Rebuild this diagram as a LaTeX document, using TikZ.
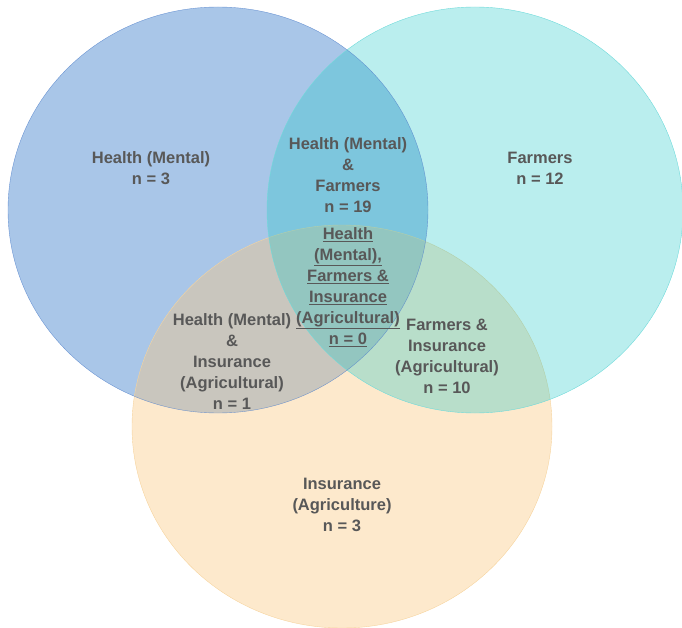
\documentclass[tikz,border=0pt]{standalone}
\usepackage{fontspec}
\setmainfont{Liberation Sans}
\usepackage{tikz}
\definecolor{mentalblue}{RGB}{169,198,232}
\definecolor{mentaledge}{RGB}{86,132,204}
\definecolor{farmcyan}{RGB}{25,198,198}
\definecolor{farmedge}{RGB}{110,218,218}
\definecolor{insorange}{RGB}{250,200,128}
\definecolor{insedge}{RGB}{246,212,158}
\definecolor{labelgray}{RGB}{88,88,88}

\begin{document}
\begin{tikzpicture}[x=1pt,y=-1pt,
    setlabel/.style={labelgray,align=center,font=\fontsize{16.5}{21}\selectfont\bfseries}]
  \useasboundingbox (0,0) rectangle (682,628);
  % the three sets, blue first, then orange, cyan on top
  \fill[mentalblue] (218,210) ellipse [x radius=210pt, y radius=203pt];
  \fill[insorange,fill opacity=0.4] (342,426.5) ellipse [x radius=210pt, y radius=201.5pt];
  \draw[insedge] (342,426.5) ellipse [x radius=210pt, y radius=201.5pt];
  \fill[farmcyan,fill opacity=0.3] (475,210) ellipse [x radius=208pt, y radius=203pt];
  \draw[farmedge] (475,210) ellipse [x radius=208pt, y radius=203pt];
  \draw[mentaledge,draw opacity=0.8] (218,210) ellipse [x radius=210pt, y radius=203pt];
  % counts
  \node[setlabel] (mental) at (151,168) {Health (Mental)\\n = 3};
  \node[setlabel] (farmers) at (540,168) {Farmers\\n = 12};
  \node[setlabel] (insurance) at (342,505) {Insurance\\(Agriculture)\\n = 3};
  \node[setlabel] (mentalfarm) at (348,175) {Health (Mental)\\\&\\Farmers\\n = 19};
  \node[setlabel] (mentalins) at (232,362) {Health (Mental)\\\&\\Insurance\\(Agricultural)\\n = 1};
  \node[setlabel] (farmins) at (447,356) {Farmers \&\\Insurance\\(Agricultural)\\n = 10};
  \node[setlabel] (allthree) at (348,287) {\underline{Health}\\\underline{(Mental),}\\\underline{Farmers \&}\\\underline{Insurance}\\\underline{(Agricultural)}\\\underline{n = 0}};
\end{tikzpicture}
\end{document}
